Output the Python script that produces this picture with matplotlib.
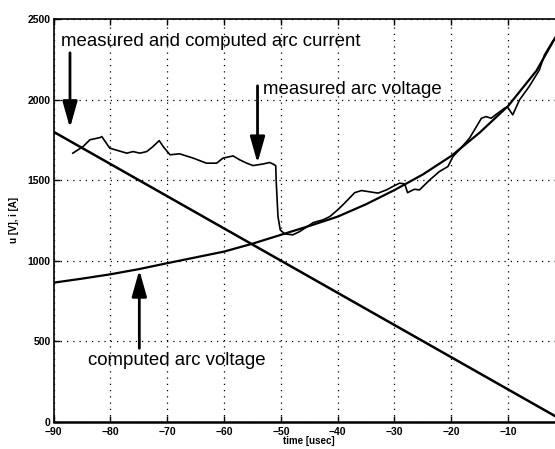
import matplotlib.pyplot as plt

plt.rcParams.update(
    {
        "font.family": ["Liberation Sans", "DejaVu Sans"],
        "xtick.direction": "in",
        "ytick.direction": "in",
        "xtick.top": True,
        "ytick.right": True,
        "xtick.major.size": 4,
        "ytick.major.size": 4,
    }
)

# computed arc current (straight line)
current_t = [-90, 0]
current_i = [1800, 0]

# computed arc voltage
comp_t = [-90, -85, -80, -75, -70, -65, -60, -55, -50, -45, -40, -35, -30,
          -25, -20, -15, -10, -5, 0]
comp_u = [863, 888, 915, 947, 984, 1020, 1056, 1105, 1160, 1215, 1273, 1350,
          1438, 1535, 1650, 1795, 1960, 2180, 2490]

# measured arc voltage
meas_t = [-86.6, -84.8, -83.6, -81.8, -81.5, -80.1, -77.1, -76.0, -74.8, -73.6,
          -72.5, -71.4, -70.7, -69.5, -67.8, -65.4, -63.1, -61.3, -60.2, -58.4,
          -57.2, -56.0, -54.9, -53.1, -52.0, -51.4, -50.9, -50.8, -50.5, -50.1,
          -49.3, -47.9, -46.7, -44.3, -42.6, -41.4, -40.0, -38.8, -37.0, -35.8,
          -34.7, -32.9, -31.4, -30.3, -29.1, -28.2, -27.7, -26.5, -25.6, -24.7,
          -23.8, -22.1, -20.6, -19.7, -18.6, -16.8, -14.7, -13.9, -13.0, -11.8,
          -10.6, -10.1, -9.2, -8.0, -6.3, -4.5, -3.6, -2.2, -1.0]
meas_u = [1667, 1708, 1750, 1764, 1770, 1698, 1667, 1677, 1667, 1677,
          1708, 1745, 1708, 1657, 1663, 1636, 1605, 1605, 1636, 1650,
          1625, 1605, 1590, 1600, 1609, 1600, 1590, 1481, 1273, 1190,
          1166, 1160, 1180, 1236, 1253, 1273, 1315, 1356, 1422, 1435,
          1429, 1419, 1439, 1460, 1481, 1476, 1422, 1443, 1439, 1470,
          1501, 1553, 1584, 1646, 1688, 1760, 1884, 1894, 1884, 1916,
          1947, 1953, 1905, 1998, 2081, 2184, 2278, 2360, 2420]

x_ticks = [-90, -80, -70, -60, -50, -40, -30, -20, -10]
y_ticks = [0, 500, 1000, 1500, 2000, 2500]

fig = plt.figure(figsize=(5.55, 4.49), dpi=100)
# the right end of the axis (t = 0) lies just past the picture's edge
ax = fig.add_axes([0.0964, 0.0608, 0.9216, 0.8969])

ax.plot(current_t, current_i, color="black", lw=1.8, zorder=3)
ax.plot(comp_t, comp_u, color="black", lw=1.6, zorder=3)
ax.plot(meas_t, meas_u, color="black", lw=1.2, zorder=3)

ax.set_xlim(-90, 0)
ax.set_ylim(0, 2500)
ax.set_xticks(x_ticks)
ax.set_yticks(y_ticks)
ax.grid(True, color="black", linestyle=(0, (1, 4)), lw=0.9)
ax.tick_params(labelsize=7.5, width=1, pad=2)
ax.tick_params(axis="x", pad=4)
for lab in ax.get_xticklabels() + ax.get_yticklabels():
    lab.set_fontweight("bold")
for side in ["left", "top", "right"]:
    ax.spines[side].set_linewidth(1.2)
ax.spines["bottom"].set_linewidth(1.8)

ax.set_xlabel("time [usec]", fontsize=7, fontweight="bold", labelpad=-1)
ax.set_ylabel("u [V], i [A]", fontsize=7, fontweight="bold", labelpad=6)

arrow = dict(arrowstyle="-|>,head_length=1.6,head_width=0.45", lw=2,
             color="black", fc="black", shrinkA=0, shrinkB=0)
ax.annotate("", xy=(-87.1, 1824), xytext=(-87.1, 2290), arrowprops=arrow)
ax.annotate("", xy=(-54.1, 1605), xytext=(-54.1, 2085), arrowprops=arrow)
ax.annotate("", xy=(-74.9, 942), xytext=(-74.9, 456), arrowprops=arrow)

ax.text(-88.7, 2358, "measured and computed arc current", fontsize=13.4,
        va="center", ha="left")
ax.text(-53.2, 2060, "measured arc voltage", fontsize=13.4, va="center", ha="left")
ax.text(-83.9, 383, "computed arc voltage", fontsize=13.4, va="center", ha="left")

fig.savefig("out.png", dpi=100)
